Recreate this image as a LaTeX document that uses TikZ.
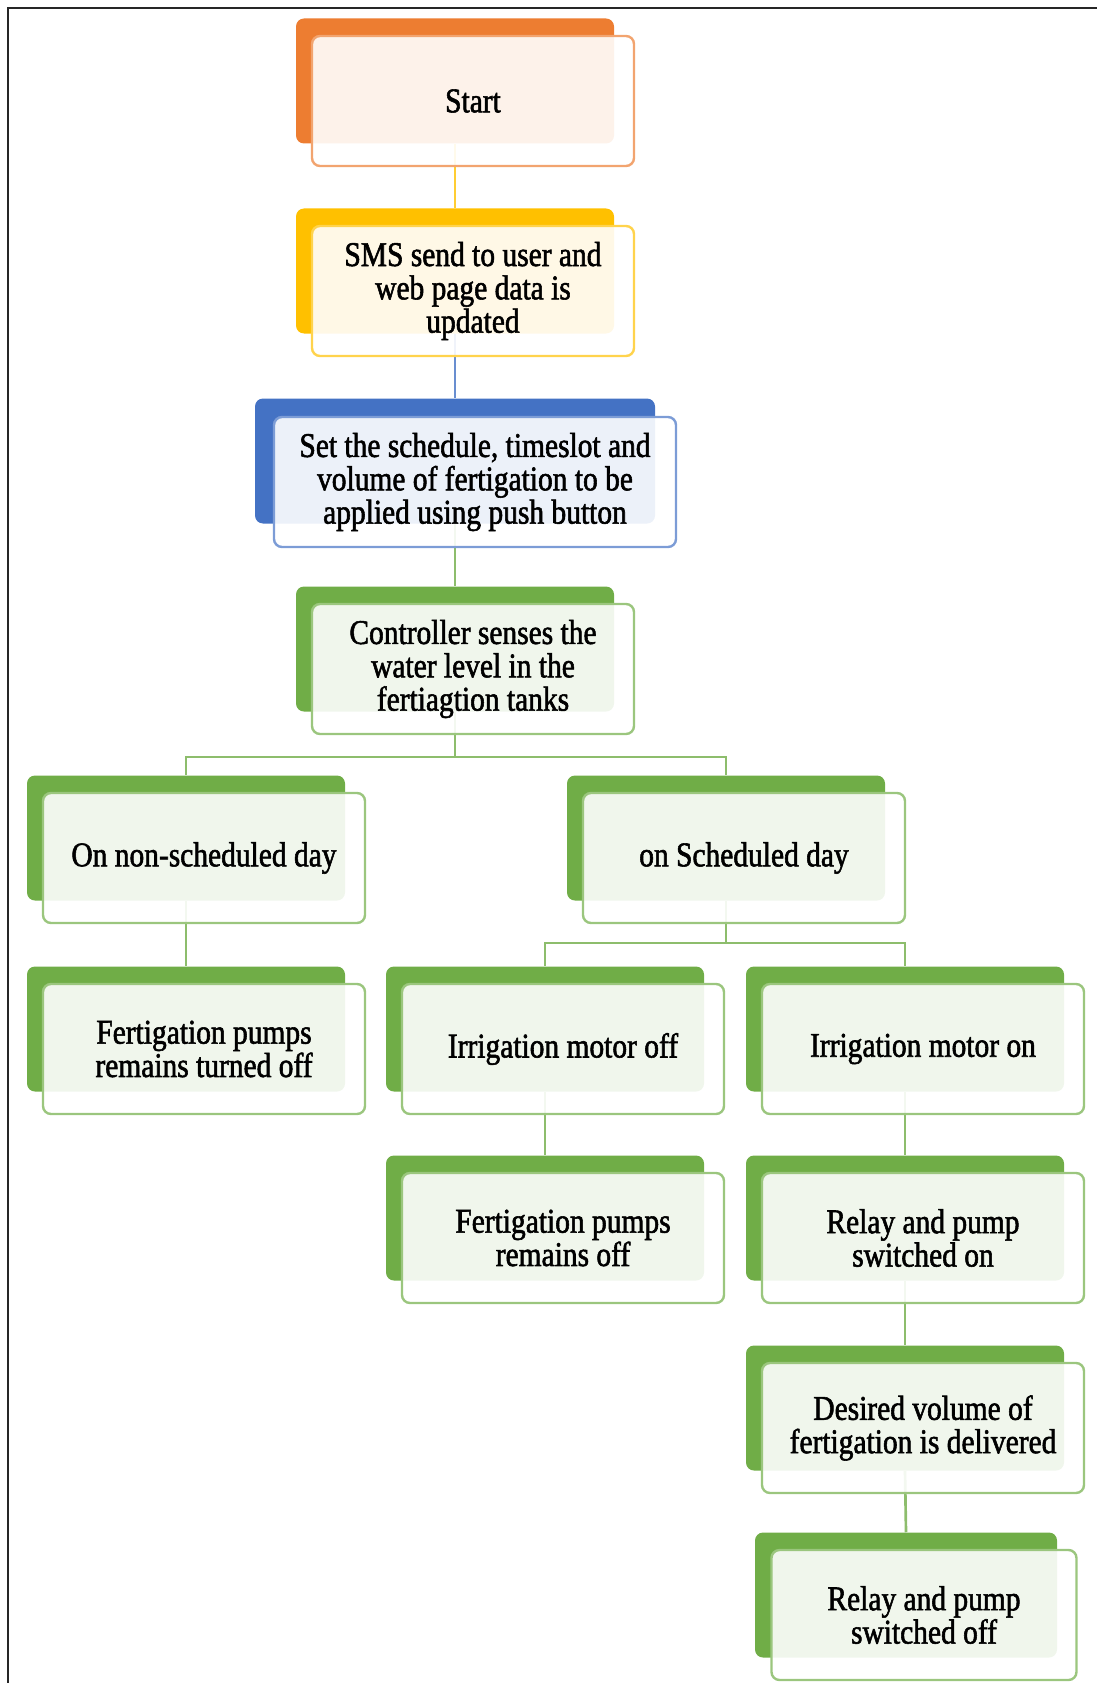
\documentclass[tikz,border=0pt]{standalone}
\usepackage{fontspec}
\usepackage{tikz}
\usetikzlibrary{positioning}
\newfontfamily\boxfont[FakeStretch=0.85,FakeBold=1.6]{Liberation Serif}

\definecolor{accOrange}{RGB}{237,125,49}
\definecolor{accYellow}{RGB}{255,192,0}
\definecolor{accBlue}{RGB}{68,114,196}
\definecolor{accGreen}{RGB}{112,173,71}

\tikzset{
  backbox/.style={rectangle, rounded corners=6pt, fill=#1, inner sep=0pt,
    minimum width=238.5pt, minimum height=93.75pt},
  frontbox/.style={rectangle, rounded corners=6pt, draw=#1!70, line width=1.8pt,
    fill=white, fill opacity=0.9, text opacity=1, inner sep=2pt, align=center,
    minimum width=241.5pt, minimum height=97.5pt,
    font=\boxfont\fontsize{26}{25}\selectfont},
  link/.style={draw=#1!80, line width=2pt},
  frame/.style={draw=black!85, line width=1.5pt},
}

\begin{document}
\begin{tikzpicture}[x=0.75pt,y=0.75pt,yscale=-1,xscale=1]
\useasboundingbox (0,0) rectangle (1097,1683);

%Straight Lines [frame]
\draw[frame] (8,1683) -- (8,8.5) -- (1097,8.5);

%Shape: back boxes
\node[backbox=accOrange] (start) at (455,81) {};
\node[backbox=accYellow] (sms) at (455,271) {};
\node[backbox=accBlue, minimum width=300pt] (sched) at (455,461) {};
\node[backbox=accGreen] (ctrl) at (455,649) {};
\node[backbox=accGreen] (nonday) at (186,838) {};
\node[backbox=accGreen] (onday) at (726,838) {};
\node[backbox=accGreen] (pumpsoffA) at (186,1029) {};
\node[backbox=accGreen] (motoroff) at (545,1029) {};
\node[backbox=accGreen] (motoron) at (905,1029) {};
\node[backbox=accGreen] (pumpsoffB) at (545,1218) {};
\node[backbox=accGreen] (relayon) at (905,1218) {};
\node[backbox=accGreen] (volume) at (905,1408) {};
\node[backbox=accGreen, minimum width=226.5pt] (relayoff) at (906,1595) {};

\coordinate (forkA) at (455,757);
\coordinate (forkB) at (726,943);

%Straight Lines [connectors]
\draw[link=accYellow] (start.south) -- (sms.north);
\draw[link=accBlue] (sms.south) -- (sched.north);
\draw[link=accGreen] (sched.south) -- (ctrl.north);
\draw[link=accGreen] (ctrl.south) -- (forkA) -| (nonday.north);
\draw[link=accGreen] (forkA) -| (onday.north);
\draw[link=accGreen] (nonday.south) -- (pumpsoffA.north);
\draw[link=accGreen] (onday.south) -- (forkB) -| (motoroff.north);
\draw[link=accGreen] (forkB) -| (motoron.north);
\draw[link=accGreen] (motoroff.south) -- (pumpsoffB.north);
\draw[link=accGreen] (motoron.south) -- (relayon.north);
\draw[link=accGreen] (relayon.south) -- (volume.north);
\draw[link=accGreen] (volume.south) -- (relayoff.north);

% Text Node
\node[frontbox=accOrange] (start-f) at ([shift={(18,20)}]start.center) {Start};
% Text Node
\node[frontbox=accYellow] (sms-f) at ([shift={(18,20)}]sms.center) {SMS send to user and\\web page data is\\updated};
% Text Node
\node[frontbox=accBlue, minimum width=301.5pt] (sched-f) at ([shift={(20,21)}]sched.center) {Set the schedule, timeslot and\\volume of fertigation to be\\applied using push button};
% Text Node
\node[frontbox=accGreen] (ctrl-f) at ([shift={(18,20)}]ctrl.center) {Controller senses the\\water level in the\\fertiagtion tanks};
% Text Node
\node[frontbox=accGreen] (nonday-f) at ([shift={(18,20)}]nonday.center) {On non-scheduled day};
% Text Node
\node[frontbox=accGreen] (onday-f) at ([shift={(18,20)}]onday.center) {on Scheduled day};
% Text Node
\node[frontbox=accGreen] (pumpsoffA-f) at ([shift={(18,20)}]pumpsoffA.center) {Fertigation pumps\\remains turned off};
% Text Node
\node[frontbox=accGreen] (motoroff-f) at ([shift={(18,20)}]motoroff.center) {Irrigation motor off};
% Text Node
\node[frontbox=accGreen] (motoron-f) at ([shift={(18,20)}]motoron.center) {Irrigation motor on};
% Text Node
\node[frontbox=accGreen] (pumpsoffB-f) at ([shift={(18,20)}]pumpsoffB.center) {Fertigation pumps\\remains off};
% Text Node
\node[frontbox=accGreen] (relayon-f) at ([shift={(18,20)}]relayon.center) {Relay and pump\\switched on};
% Text Node
\node[frontbox=accGreen] (volume-f) at ([shift={(18,20)}]volume.center) {Desired volume of\\fertigation is delivered};
% Text Node
\node[frontbox=accGreen, minimum width=228.75pt] (relayoff-f) at ([shift={(18,20)}]relayoff.center) {Relay and pump\\switched off};

\end{tikzpicture}
\end{document}
